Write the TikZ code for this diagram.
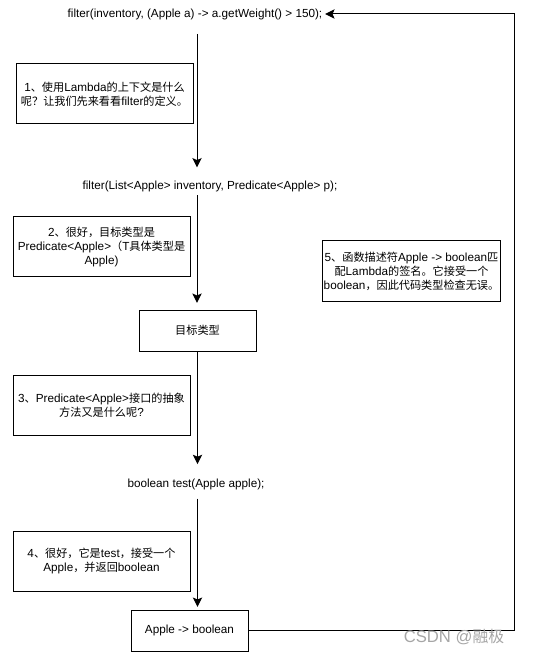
\documentclass[tikz,border=0pt]{standalone}
\usepackage{fontspec}
\setmainfont{Liberation Sans}
\newfontfamily\zh[Scale=0.95]{Noto Sans CJK SC}
\usetikzlibrary{arrows.meta}
\tikzstyle{note} = [rectangle, draw=black, line width=0.75pt, minimum width=132.75pt, minimum height=45pt, align=center, inner sep=1pt]
\tikzstyle{typebox} = [rectangle, draw=black, line width=0.75pt, minimum width=87.75pt, minimum height=30.75pt, align=center]
\tikzstyle{code} = [inner sep=0pt, minimum height=13.5pt, align=center]
\tikzstyle{arrow} = [line width=0.75pt, -{Stealth[length=7pt, width=7pt, inset=1.5pt]}]
\tikzstyle{line} = [line width=0.75pt]

\begin{document}
\begin{tikzpicture}[x=0.75pt, y=-0.75pt, font=\fontsize{8.8}{10.5}\selectfont]
			\useasboundingbox (0,0) rectangle (536,655);
			\node[code] (call) at (195,14) {filter(inventory, (Apple a) -> a.getWeight() > 150);};
			\node[code] (def) at (210,186) {filter(List<Apple> inventory, Predicate<Apple> p);};
			\node[typebox] (target) at (197.5,330.5) {{\zh 目标类型}};
			\node[code] (test) at (196,484) {boolean test(Apple apple);};
			\node[typebox] (sig) at (189.5,630.5) {Apple -> boolean};
			
			\node[note] (note1) at (104.5,94) {1{\zh 、使用}Lambda{\zh 的上下文是什么}\\{\zh 呢？让我们先来看看}filter{\zh 的定义。}};
			\node[note] (note2) at (101.5,247) {2{\zh 、很好，目标类型是}\\Predicate<Apple>{\zh （}T{\zh 具体类型是}\\Apple)};
			\node[note] (note3) at (101.5,405) {3{\zh 、}Predicate<Apple>{\zh 接口的抽象}\\{\zh 方法又是什么呢}?};
			\node[note] (note4) at (101.5,561) {4{\zh 、很好，它是}test{\zh ，接受一个}\\Apple{\zh ，并返回}boolean};
			\node[note] (note5) at (411.5,271) {5{\zh 、函数描述符}Apple -> boolean{\zh 匹}\\{\zh 配}Lambda{\zh 的签名。它接受一个}\\boolean{\zh ，因此代码类型检查无误。}};
			
			\coordinate (back) at (514,320);
			
			\draw [arrow, shorten <=8pt, shorten >=7pt] (call.south -| 197,0) -- (def.north -| 197,0);
			\draw [arrow, shorten >=5pt] (def.south -| 197,0) -- (target.north -| 197,0);
			\draw [arrow, shorten >=8pt] (target.south) -- (test.north -| target.south);
			\draw [arrow, shorten <=4pt, shorten >=2pt] (test.south -| target.south) -- (sig.north -| target.south);
			\draw [arrow, shorten >=2pt] (sig.east) -| (back) |- (call.east);
			
			\node[text=black!35, font=\fontsize{12.5}{14}\selectfont] (mark) at (454,637) {CSDN @{\zh 融极}};
		\end{tikzpicture}
\end{document}
